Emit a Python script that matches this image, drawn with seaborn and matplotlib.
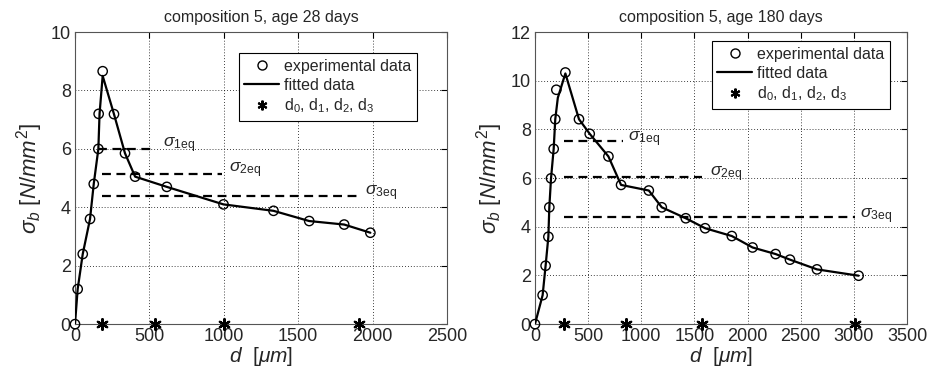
import numpy as np
import pandas as pd
import seaborn as sns
import matplotlib.pyplot as plt
from matplotlib.lines import Line2D

# ---------------- data: composition 5, age 28 days ----------------
d28_exp = [0, 18, 52, 101, 126, 157, 159, 186, 262, 336, 404, 617, 998, 1334, 1574, 1809, 1985]
s28_exp = [0, 1.2, 2.4, 3.6, 4.8, 6.0, 7.2, 8.66, 7.19, 5.85, 5.05, 4.7, 4.1, 3.88, 3.53, 3.41, 3.13]
d28_fit = [0, 18, 52, 101, 126, 157, 165, 186, 262, 336, 404, 617, 998, 1334, 1574, 1809, 1985]
s28_fit = [0, 1.2, 2.4, 3.6, 4.8, 6.0, 7.2, 8.5, 7.19, 5.85, 5.05, 4.7, 4.1, 3.88, 3.53, 3.41, 3.13]
d28_stars = [184, 540, 1004, 1910]
s28_eq = [6.0, 5.14, 4.39]
d28_eq_start = [157, 179, 179]
d28_eq_end = [538, 987, 1917]

# ---------------- data: composition 5, age 180 days ----------------
d180_exp = [0, 72, 100, 126, 135, 151, 176, 191, 201, 286, 414, 515, 691, 810, 1071, 1193,
            1419, 1601, 1852, 2047, 2264, 2399, 2653, 3045]
s180_exp = [0, 1.19, 2.4, 3.59, 4.8, 5.99, 7.2, 8.42, 9.63, 10.34, 8.42, 7.82, 6.89, 5.72, 5.49, 4.8,
            4.35, 3.94, 3.62, 3.15, 2.88, 2.65, 2.25, 1.99]
d180_fit = [0, 72, 100, 126, 135, 151, 176, 191, 215, 286, 414, 515, 691, 810, 1071, 1193,
            1419, 1601, 1852, 2047, 2264, 2399, 2653, 3045]
s180_fit = [0, 1.19, 2.4, 3.59, 4.8, 5.99, 7.2, 8.42, 9.3, 10.3, 8.42, 7.82, 6.89, 5.72, 5.49, 4.8,
            4.35, 3.94, 3.62, 3.15, 2.88, 2.65, 2.25, 1.99]
d180_stars = [276, 854, 1576, 3008]
s180_eq = [7.54, 6.06, 4.39]
d180_eq_start = [276, 276, 276]
d180_eq_end = [832, 1576, 3008]

sns.set_style("white")
plt.rcParams["font.family"] = ["Liberation Sans", "DejaVu Sans"]
plt.rcParams["mathtext.fontset"] = "custom"
plt.rcParams["mathtext.rm"] = "Liberation Sans"
plt.rcParams["mathtext.it"] = "Liberation Sans:italic"

ASTERISK = (6, 2, 0)

fig = plt.figure(figsize=(9.27, 3.73), dpi=100)
ax1 = fig.add_axes([0.0809, 0.131, 0.4013, 0.783])
ax2 = fig.add_axes([0.5771, 0.131, 0.4013, 0.783])


def draw(ax, dexp, sexp, dfit, sfit, dstars, seq, eq_start, eq_end, lbl_x, lbl_y,
         title, xmax, ymax, legend_anchor):
    fit = pd.DataFrame({"d": dfit, "s": sfit})
    exp = pd.DataFrame({"d": dexp, "s": sexp})
    sns.lineplot(data=fit, x="d", y="s", ax=ax, color="black", lw=1.6, sort=False,
                 estimator=None, zorder=3)
    sns.scatterplot(data=exp, x="d", y="s", ax=ax, marker="o", s=45,
                    facecolors="none", edgecolor="black", linewidth=1.0, zorder=4,
                    clip_on=False)
    stars = pd.DataFrame({"d": dstars, "s": [0] * len(dstars)})
    sns.scatterplot(data=stars, x="d", y="s", ax=ax, marker=ASTERISK, s=60,
                    color="black", linewidth=1.6, zorder=5, clip_on=False)
    for i, (y, x0, x1) in enumerate(zip(seq, eq_start, eq_end)):
        ax.plot([x0, x1], [y, y], color="black", ls=(0, (4, 2.5)), lw=1.6, zorder=2)
        ax.text(lbl_x[i], lbl_y[i], r"$\sigma_{\mathrm{%deq}}$" % (i + 1), fontsize=12.5,
                va="bottom", ha="left")

    ax.set_xlim(0, xmax)
    ax.set_ylim(0, ymax)
    ax.set_xticks(np.arange(0, xmax + 1, 500))
    ax.set_yticks(np.arange(0, ymax + 1, 2))
    ax.grid(True, color="black", ls=(0, (1, 2.5)), lw=0.6)
    ax.tick_params(direction="in", length=4, labelsize=13, color="black", pad=3,
                   top=True, right=True)
    for sp in ax.spines.values():
        sp.set_color("#555555")
        sp.set_linewidth(0.8)
    ax.set_title(title, fontsize=11.5, pad=7)
    ax.set_xlabel(r"$d\ \ [\mu m]$", fontsize=15, labelpad=0)
    ax.set_ylabel(r"$\sigma_b\ [N/mm^2]$", fontsize=16, labelpad=4)

    handles = [
        Line2D([], [], ls="none", marker="o", mfc="none", mec="black", ms=6.5),
        Line2D([], [], color="black", lw=1.6),
        Line2D([], [], ls="none", marker=ASTERISK, color="black", ms=7, mew=1.5),
    ]
    labels = ["experimental data", "fitted data", r"d$_0$, d$_1$, d$_2$, d$_3$"]
    leg = ax.legend(handles, labels, loc="upper right", bbox_to_anchor=legend_anchor,
                    fontsize=11.5, frameon=True, fancybox=False, framealpha=1,
                    borderpad=0.35, labelspacing=0.25, handlelength=2.2,
                    handletextpad=0.3, borderaxespad=0)
    leg.get_frame().set_edgecolor("black")
    leg.get_frame().set_linewidth(0.8)


draw(ax1, d28_exp, s28_exp, d28_fit, s28_fit, d28_stars, s28_eq, d28_eq_start, d28_eq_end,
     [590, 1038, 1951], [5.8, 4.95, 4.15], "composition 5, age 28 days", 2500, 10,
     (0.919, 0.928))
draw(ax2, d180_exp, s180_exp, d180_fit, s180_fit, d180_stars, s180_eq, d180_eq_start, d180_eq_end,
     [879, 1648, 3061], [7.2, 5.75, 4.05], "composition 5, age 180 days", 3500, 12,
     (0.954, 0.969))

fig.savefig("out.png", dpi=100)
